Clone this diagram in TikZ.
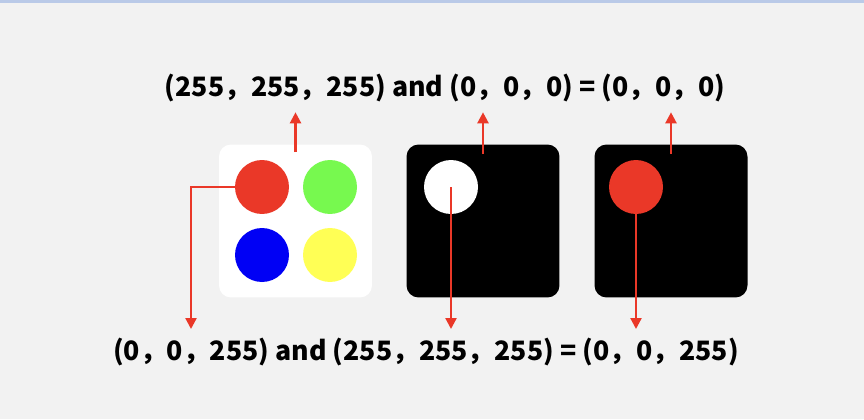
\documentclass[tikz,border=0pt]{standalone}
\usepackage{fontspec}
\setmainfont{Noto Sans CJK SC}
\usetikzlibrary{arrows.meta}
\definecolor{bggray}{RGB}{242,242,242}
\definecolor{topblue}{RGB}{186,202,232}
\definecolor{arrowred}{RGB}{234,56,40}
\definecolor{dotgreen}{RGB}{119,249,79}
\definecolor{dotblue}{RGB}{0,0,245}
\definecolor{dotyellow}{RGB}{255,255,85}
\begin{document}
\begin{tikzpicture}[x=0.02cm, y=-0.02cm,
    panel/.style={rounded corners=0.24cm, minimum width=3.06cm, minimum height=3.06cm, inner sep=0pt},
    dot/.style={circle, minimum size=1.08cm, inner sep=0pt},
    formula/.style={font=\bfseries\fontsize{15.2}{17}\selectfont, inner sep=0pt},
    link/.style={arrowred, line width=1.3pt, -{Triangle[length=0.22cm, width=0.22cm]}}
  ]
    \fill[bggray] (0,0) rectangle (864,419);
    \fill[topblue] (0,0) rectangle (864,2.5);
    % three panels
    \node[panel, fill=white] (b1) at (295.5,221) {};
    \node[panel, fill=black] (b2) at (483,221) {};
    \node[panel, fill=black] (b3) at (671,221) {};
    \node[dot, fill=arrowred] (red) at (262,187) {};
    \node[dot, fill=dotgreen] (green) at (330,187) {};
    \node[dot, fill=dotblue] (blue) at (262,255) {};
    \node[dot, fill=dotyellow] (yellow) at (330,255) {};
    \node[dot, fill=white] (w2) at (451,187) {};
    \node[dot, fill=arrowred] (r3) at (636,187) {};
    % formulas
    \node[formula] (top) at (445,88) {(255，255，255) and (0，0，0) = (0，0，0)};
    \node[formula] (bot) at (426,352) {(0，0，255) and (255，255，255) = (0，0，255)};
    \coordinate (e1) at (191,329);
    % arrows up
    \draw[link] ([yshift=-0.16cm]b1.north) -- ([yshift=-0.2cm]top.south -| b1.north);
    \draw[link] ([yshift=-0.2cm]b2.north) -- ([yshift=-0.2cm]top.south -| b2.north);
    \draw[link] ([yshift=-0.2cm]b3.north) -- ([yshift=-0.2cm]top.south -| b3.north);
    % arrows down
    \draw[link] (red.west) -| (e1);
    \draw[link] (w2.center) -- (w2 |- e1);
    \draw[link] (r3.center) -- (r3 |- e1);
\end{tikzpicture}
\end{document}
